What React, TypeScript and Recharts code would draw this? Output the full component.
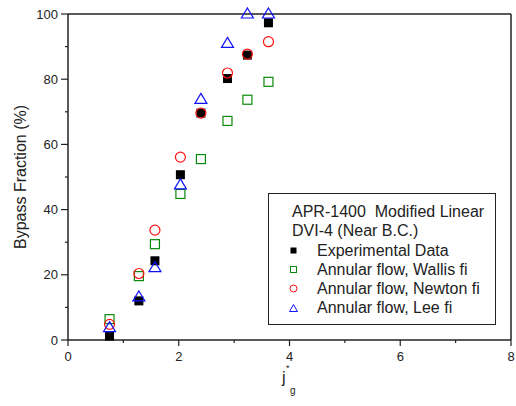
import { ReferenceLine, Scatter, ScatterChart, XAxis, YAxis } from "recharts";

const jg = [0.75, 1.28, 1.57, 2.03, 2.4, 2.88, 3.24, 3.62];
const experimental = [1.2, 12, 24.3, 50.7, 69.6, 80.2, 87.4, 97.3];
const wallis = [6.4, 19.6, 29.4, 44.8, 55.5, 67.2, 73.7, 79.2];
const newton = [4.8, 20.4, 33.7, 56.1, 69.6, 81.9, 87.7, 91.5];
const lee = [3.8, 13.2, 22.2, 47.6, 73.8, 91.0, 100, 100];

const xTicks = [0, 1, 2, 3, 4, 5, 6, 7, 8];
const yTicks = [0, 10, 20, 30, 40, 50, 60, 70, 80, 90, 100];

const FONT = "Arial, 'Liberation Sans', sans-serif";
const AXIS = "#222";
const GREEN = "#0a8a0a";
const RED = "#ff1010";
const BLUE = "#1010ff";

const toPoints = (ys: number[]) => jg.map((x, i) => ({ x, y: ys[i] }));

const XTick = ({ x, y, payload }: any) => {
  const major = payload.value % 2 === 0;
  return (
    <g>
      <line x1={x} x2={x} y1={y} y2={y + (major ? 6 : 3)} stroke={AXIS} strokeWidth={1.2} />
      {major && (
        <text x={x} y={y + 21} textAnchor="middle" fontSize={13} fontFamily={FONT} fill="#222">
          {payload.value}
        </text>
      )}
    </g>
  );
};

const YTick = ({ x, y, payload }: any) => {
  const major = payload.value % 20 === 0;
  return (
    <g>
      <line x1={x} x2={x - (major ? 7 : 3)} y1={y} y2={y} stroke={AXIS} strokeWidth={1.2} />
      {major && (
        <text x={x - 10} y={y} dy="0.35em" textAnchor="end" fontSize={13} fontFamily={FONT} fill="#222">
          {payload.value}
        </text>
      )}
    </g>
  );
};

const FilledSquare = ({ cx, cy }: any) => (
  <rect x={cx - 4.5} y={cy - 4.5} width={9} height={9} fill="#000" />
);
const HollowSquare = ({ cx, cy }: any) => (
  <rect x={cx - 4.5} y={cy - 4.5} width={9} height={9} fill="none" stroke={GREEN} strokeWidth={1.2} />
);
const HollowCircle = ({ cx, cy }: any) => (
  <circle cx={cx} cy={cy} r={5} fill="none" stroke={RED} strokeWidth={1.2} />
);
const HollowTriangle = ({ cx, cy }: any) => (
  <path
    d={`M${cx},${cy - 6} L${cx + 6},${cy + 4} L${cx - 6},${cy + 4} Z`}
    fill="none"
    stroke={BLUE}
    strokeWidth={1.2}
  />
);

const legendItems = [
  { label: "Experimental Data", icon: <rect x={2.5} y={2.5} width={6} height={6} fill="#000" /> },
  { label: "Annular flow, Wallis fi", icon: <rect x={2.5} y={2.5} width={6} height={6} fill="none" stroke={GREEN} /> },
  { label: "Annular flow, Newton fi", icon: <circle cx={5.5} cy={5.5} r={3.5} fill="none" stroke={RED} /> },
  { label: "Annular flow, Lee fi", icon: <path d="M5.5,1.5 L9.5,8.5 L1.5,8.5 Z" fill="none" stroke={BLUE} /> },
];

export default function App() {
  return (
    <div style={{ position: "absolute", left: 0, top: 0, width: 516, height: 406, background: "#fff" }}>
      <ScatterChart width={516} height={406} margin={{ top: 14, right: 5, left: 0, bottom: 0 }}>
        <XAxis
          type="number"
          dataKey="x"
          domain={[0, 8]}
          ticks={xTicks}
          interval={0}
          height={66}
          tickSize={0}
          tickMargin={0}
          tickLine={false}
          tick={<XTick />}
          stroke={AXIS}
          strokeWidth={1.5}
        />
        <YAxis
          type="number"
          dataKey="y"
          domain={[0, 100]}
          ticks={yTicks}
          interval={0}
          width={68}
          tickSize={0}
          tickMargin={0}
          tickLine={false}
          tick={<YTick />}
          stroke={AXIS}
          strokeWidth={1.5}
        />
        <ReferenceLine y={100} stroke={AXIS} strokeWidth={1.5} />
        <ReferenceLine x={8} stroke={AXIS} strokeWidth={1.5} />
        <Scatter data={toPoints(wallis)} shape={<HollowSquare />} isAnimationActive={false} />
        <Scatter data={toPoints(experimental)} shape={<FilledSquare />} isAnimationActive={false} />
        <Scatter data={toPoints(newton)} shape={<HollowCircle />} isAnimationActive={false} />
        <Scatter data={toPoints(lee)} shape={<HollowTriangle />} isAnimationActive={false} />
      </ScatterChart>

      <svg width={516} height={406} style={{ position: "absolute", left: 0, top: 0, pointerEvents: "none" }}>
        <text
          x={20}
          y={177}
          transform="rotate(-90 20 177)"
          textAnchor="middle"
          dominantBaseline="central"
          fontSize={16}
          fontFamily={FONT}
          fill="#222"
        >
          Bypass Fraction (%)
        </text>
        <text x={282} y={383} fontSize={16} fontFamily={FONT} fill="#222">j</text>
        <text x={286} y={371} fontSize={9} fontFamily={FONT} fill="#222">*</text>
        <text x={290} y={394} fontSize={10} fontFamily={FONT} fill="#222">g</text>
      </svg>

      <div
        style={{
          position: "absolute",
          left: 268,
          top: 193,
          width: 228,
          height: 132,
          boxSizing: "border-box",
          border: "1.5px solid #222",
          padding: "8px 0 0 23px",
          fontFamily: FONT,
          fontSize: 16,
          lineHeight: "19.3px",
          color: "#222",
        }}
      >
        <div style={{ whiteSpace: "pre" }}>APR-1400  Modified Linear</div>
        <div>DVI-4 (Near B.C.)</div>
        {legendItems.map((item) => (
          <div key={item.label} style={{ display: "flex", alignItems: "center", whiteSpace: "pre" }}>
            <svg width={11} height={11} style={{ marginLeft: -4, marginRight: 18 }}>
              {item.icon}
            </svg>
            {item.label}
          </div>
        ))}
      </div>
    </div>
  );
}
